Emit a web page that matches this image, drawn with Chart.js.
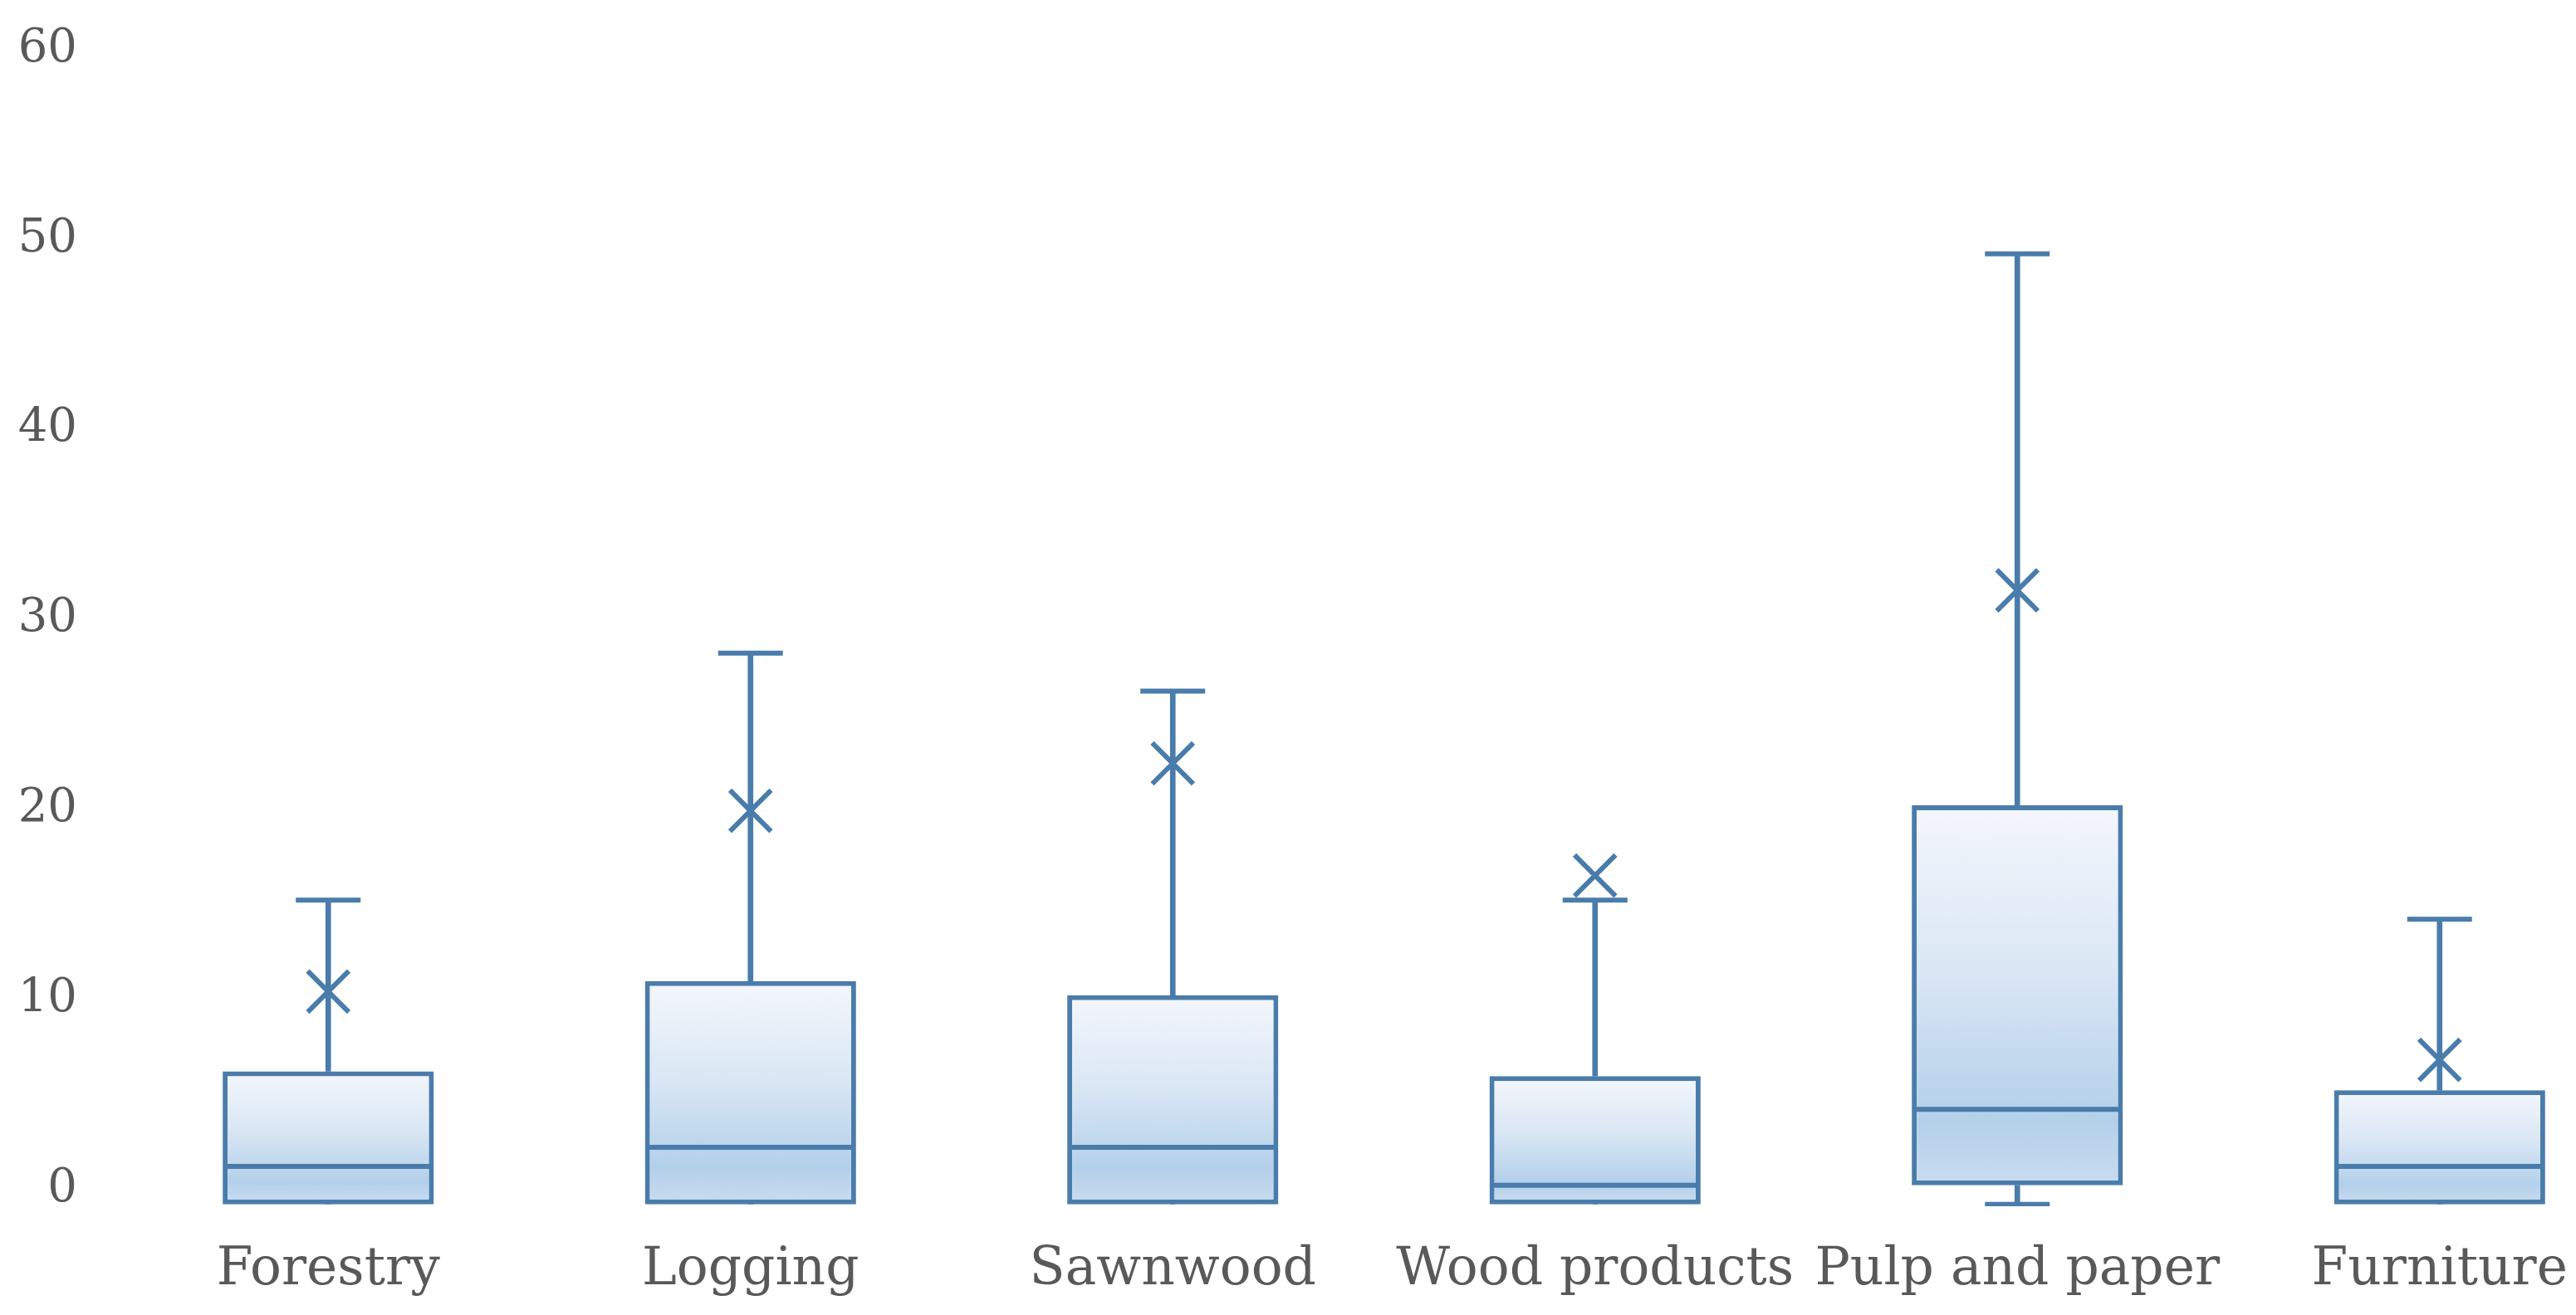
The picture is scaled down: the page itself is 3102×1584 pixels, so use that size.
<!DOCTYPE html>
<html>
<head>
<meta charset="utf-8">
<title>Box plot</title>
<script src="https://cdn.jsdelivr.net/npm/chart.js@4.4.1/dist/chart.umd.min.js"></script>
<style>
body{
    margin:0;
    background:#ffffff;
    overflow:hidden;
}
</style>
</head>
<body>

<canvas id="boxChart" width="3192" height="1584"></canvas>

<script>

const categories = ["Forestry","Logging","Sawnwood","Wood products","Pulp and paper","Furniture"];

const minValues    = [-1, -1, -1, -1, -1, -1];
const q1Values     = [-1, -1, -1, -1, 0, -1];
const medianValues = [1, 2, 2, 0, 4, 1];
const q3Values     = [6, 10.75, 10, 5.75, 20, 5];
const maxValues    = [15, 28, 26, 15, 49, 14];
const meanValues   = [10.2, 19.7, 22.2, 16.3, 31.3, 6.6];

const yTicks = [0, 10, 20, 30, 40, 50, 60];


const lineBlue = "#4a7cab";
const textGrey = "#595959";

// gradient fill for each box, from top of box to bottom
function boxFill(context){

    const fallback = "#c5daef";

    if(context.type !== "data" || !context.chart.scales.y){
        return fallback;
    }

    const chart = context.chart;
    const y = chart.scales.y;
    const top = y.getPixelForValue(context.raw[1]);
    const bottom = y.getPixelForValue(context.raw[0]);

    if(!isFinite(top) || !isFinite(bottom)){
        return fallback;
    }

    const g = chart.ctx.createLinearGradient(0, top, 0, bottom);
    g.addColorStop(0, "#f4f7fc");
    g.addColorStop(0.45, "#d9e6f4");
    g.addColorStop(0.83, "#b3d0ea");
    g.addColorStop(1, "#c9dcf0");

    return g;
}

const ctx = document.getElementById("boxChart");

const chart = new Chart(ctx,{

    type:"bar",

    data:{

        labels:categories,

        datasets:[

            {
                label:"mean",
                type:"line",
                data:meanValues,
                showLine:false,
                pointStyle:"crossRot",
                pointRadius:35,
                pointBorderWidth:6,
                pointBorderColor:lineBlue,
                pointBackgroundColor:lineBlue,
                order:0
            },

            {
                label:"median",
                type:"line",
                data:medianValues,
                showLine:false,
                pointStyle:"line",
                pointRadius:126,
                pointBorderWidth:6,
                pointBorderColor:lineBlue,
                order:1
            },

            {
                label:"upper cap",
                type:"line",
                data:maxValues,
                showLine:false,
                pointStyle:"line",
                pointRadius:39,
                pointBorderWidth:6,
                pointBorderColor:lineBlue,
                order:2
            },

            {
                label:"lower cap",
                type:"line",
                data:minValues.map((v,i) => v < q1Values[i] ? v : null),
                showLine:false,
                pointStyle:"line",
                pointRadius:39,
                pointBorderWidth:6,
                pointBorderColor:lineBlue,
                order:2
            },

            {
                label:"upper whisker",
                data:q3Values.map((v,i) => [v, maxValues[i]]),
                backgroundColor:lineBlue,
                borderWidth:0,
                barThickness:6,
                grouped:false,
                order:3
            },

            {
                label:"lower whisker",
                data:q1Values.map((v,i) => [minValues[i], v]),
                backgroundColor:lineBlue,
                borderWidth:0,
                barThickness:6,
                grouped:false,
                order:3
            },

            {
                label:"box",
                data:q1Values.map((v,i) => [v, q3Values[i]]),
                backgroundColor:boxFill,
                borderColor:lineBlue,
                borderWidth:6,
                borderSkipped:false,
                barPercentage:0.5,
                categoryPercentage:1,
                grouped:false,
                order:4
            }

        ]

    },

    options:{

        responsive:false,
        animation:false,

        layout:{
            autoPadding:false,
            padding:{top:54, left:0, right:0, bottom:0}
        },

        plugins:{
            legend:{display:false},
            tooltip:{enabled:false}
        },

        scales:{

            x:{
                offset:true,
                grid:{display:false},
                border:{display:false},
                ticks:{
                    color:textGrey,
                    font:{family:"DejaVu Serif", size:63},
                    maxRotation:0,
                    autoSkip:false,
                    padding:32
                },
                afterFit:function(axis){
                    axis.height = 131;
                    axis.paddingLeft = 0;
                    axis.paddingRight = 0;
                }
            },

            y:{
                min:-1.1,
                max:60,
                grid:{display:false},
                border:{display:false},
                ticks:{
                    color:textGrey,
                    font:{family:"DejaVu Serif", size:56},
                    padding:40,
                    labelOffset:5
                },
                afterBuildTicks:function(axis){
                    axis.ticks = yTicks.map(v => ({value:v}));
                },
                afterFit:function(axis){
                    axis.width = 141;
                    axis.paddingTop = 0;
                    axis.paddingBottom = 0;
                }
            }

        }

    }

});

// second pass so the box gradients see the finished scales
chart.update();

</script>
</body>
</html>
